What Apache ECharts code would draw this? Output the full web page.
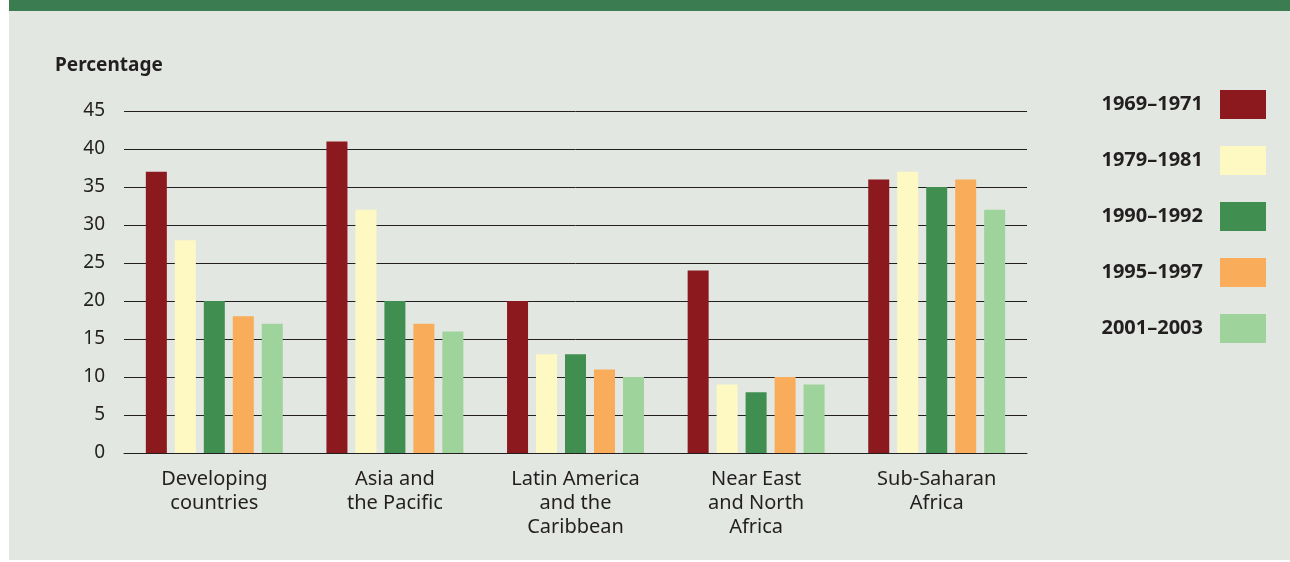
<!DOCTYPE html>
<html>
<head>
<meta charset="utf-8">
<script src="https://cdn.jsdelivr.net/npm/echarts@6/dist/echarts.min.js"></script>
<style>
  html, body { margin:0; padding:0; background:#ffffff; }
  #bg { position:absolute; left:9px; top:0; width:1281px; height:560px; background:#e2e7e1; }
  #bar { position:absolute; left:9px; top:0; width:1281px; height:11px; background:#3b7d50; }
  #chart { position:absolute; left:0; top:0; width:1290px; height:562px; }
</style>
</head>
<body>
<div id="bg"></div>
<div id="bar"></div>
<div id="chart"></div>
<script>
const categories = ['Developing\ncountries', 'Asia and\nthe Pacific', 'Latin America\nand the\nCaribbean', 'Near East\nand North\nAfrica', 'Sub-Saharan\nAfrica'];
const periods = ['1969–1971', '1979–1981', '1990–1992', '1995–1997', '2001–2003'];
const v1969 = [37, 41, 20, 24, 36];
const v1979 = [28, 32, 13, 9, 37];
const v1990 = [20, 20, 13, 8, 35];
const v1995 = [18, 17, 11, 10, 36];
const v2001 = [17, 16, 10, 9, 32];
const yTicks = [0, 5, 10, 15, 20, 25, 30, 35, 40, 45];

const seriesValues = [v1969, v1979, v1990, v1995, v2001];
const colors = ['#8b191d', '#fef9c3', '#418f50', '#f9ac59', '#9ed39b'];
const FONT = '"Noto Sans", sans-serif';
const TXT = '#231f20';

const chart = echarts.init(document.getElementById('chart'));
chart.setOption({
  backgroundColor: 'transparent',
  animation: false,
  color: colors,
  title: {
    text: 'Percentage', left: 55, top: 56, padding: 0,
    textStyle: { fontFamily: FONT, fontSize: 19, fontWeight: 'bold', color: TXT }
  },
  legend: {
    orient: 'vertical', right: 19, top: 85, align: 'right',
    itemWidth: 46, itemHeight: 29, itemGap: 27, icon: 'rect',
    data: periods,
    textStyle: { fontFamily: FONT, fontSize: 20, fontWeight: 'bold', color: TXT, padding: [0, 12, 0, 0] }
  },
  grid: { left: 124, right: 263, top: 111, bottom: 109, containLabel: false },
  xAxis: {
    type: 'category', data: categories,
    axisLine: { lineStyle: { color: TXT, width: 1 } },
    axisTick: { show: false },
    axisLabel: { fontFamily: FONT, fontSize: 20, lineHeight: 24, color: TXT, margin: 14, interval: 0 }
  },
  yAxis: {
    type: 'value', min: 0, max: 45, interval: 5,
    axisLine: { show: false }, axisTick: { show: false },
    axisLabel: { fontFamily: FONT, fontSize: 19, color: TXT, margin: 19,
      formatter: v => yTicks.includes(v) ? String(v) : '' },
    splitLine: { lineStyle: { color: TXT, width: 1 } }
  },
  series: periods.map((p, i) => ({
    name: p, type: 'bar', data: seriesValues[i],
    barWidth: 21, barGap: '38%',
    itemStyle: { color: colors[i] }
  }))
});
</script>
</body>
</html>
